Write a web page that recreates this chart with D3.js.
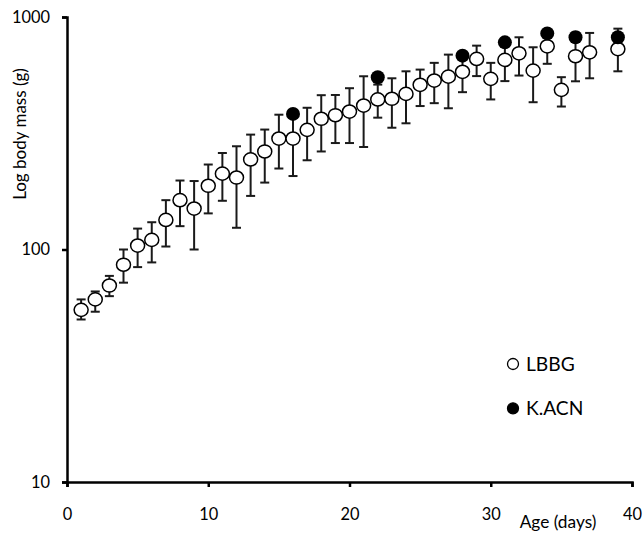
<!DOCTYPE html>
<html>
<head>
<meta charset="utf-8">
<script src="https://cdn.jsdelivr.net/npm/d3@7"></script>
<style>
  body { margin: 0; background: #fff; }
  svg { font-family: Lato, "Open Sans", sans-serif; }
</style>
</head>
<body>
<svg id="chart" width="644" height="533"></svg>
<script>
// LBBG chicks: mean body mass with upper/lower error limits (g)
const lbbgDays  = [1, 2, 3, 4, 5, 6, 7, 8, 9, 10, 11, 12, 13, 14, 15, 16, 17, 18, 19, 20,
                   21, 22, 23, 24, 25, 26, 27, 28, 29, 30, 31, 32, 33, 34, 35, 36, 37, 39];
const lbbgMass  = [55, 61, 70, 86, 104, 110, 134, 163, 150, 188, 212, 204, 244, 264, 300, 300, 327, 365, 378, 392,
                   416, 442, 445, 467, 511, 533, 554, 581, 660, 542, 654, 698, 588, 748, 486, 678, 705, 728];
const lbbgUpper = [61, 66, 77, 100, 123, 131, 163, 198, 197, 232, 260, 278, 312, 328, 380, 382, 407, 461, 462, 494,
                   556, 512, 545, 584, 594, 635, 689, 703, 753, 635, 791, 818, 741, 873, 551, 856, 854, 891];
const lbbgLower = [50, 54, 63, 72, 84, 88, 103, 126, 100, 143, 162, 124, 170, 194, 223, 207, 242, 264, 287, 287,
                   276, 369, 334, 349, 414, 426, 405, 475, 557, 442, 530, 560, 430, 629, 412, 529, 545, 584];

// K.ACN individual
const acnDays = [16, 22, 28, 31, 34, 36, 39];
const acnMass = [383, 551, 682, 778, 850, 818, 818];

const xTicks = [0, 10, 20, 30, 40];
const yTicks = [10, 100, 1000];
const legendItems = ["LBBG", "K.ACN"];

const svg = d3.select("svg#chart");
const margin = { left: 67, right: 12, top: 17, bottom: 51 };
const width = 644, height = 533;

const x = d3.scaleLinear().domain([0, 40]).range([margin.left, width - margin.right]);
const y = d3.scaleLog().domain([10, 1000]).range([height - margin.bottom, margin.top]);

const lbbg = lbbgDays.map((d, i) => ({ day: d, mass: lbbgMass[i], hi: lbbgUpper[i], lo: lbbgLower[i] }));
const acn = acnDays.map((d, i) => ({ day: d, mass: acnMass[i] }));

// axes
const xAxis = svg.append("g")
    .attr("transform", `translate(0,${y(10)})`)
    .call(d3.axisBottom(x).tickValues(xTicks).tickSize(5).tickPadding(21));
const yAxis = svg.append("g")
    .attr("transform", `translate(${x(0)},0)`)
    .call(d3.axisLeft(y).tickValues(yTicks).tickFormat(d3.format("d")).tickSize(5).tickPadding(12));

[xAxis, yAxis].forEach(a => {
    a.select(".domain").attr("stroke", "#000").attr("stroke-width", 2.5);
    a.selectAll(".tick line").attr("stroke", "#000").attr("stroke-width", 2.5);
    a.selectAll(".tick text").attr("fill", "#000").style("font-size", "16.4px")
        .style("font-family", "Lato, 'Open Sans', sans-serif");
});

// axis titles
svg.append("text")
    .attr("transform", "translate(26,134) rotate(-90)")
    .attr("text-anchor", "middle")
    .style("font-size", "17px")
    .text("Log body mass (g)");

svg.append("text")
    .attr("x", 558).attr("y", 528)
    .attr("text-anchor", "middle")
    .style("font-size", "17.3px")
    .text("Age (days)");

// error bars
const capW = 4.5;
const bars = svg.append("g").attr("stroke", "#1a1a1a").attr("stroke-width", 2);
bars.selectAll("line.stem")
    .data(lbbg)
    .join("line")
    .attr("class", "stem")
    .attr("x1", d => x(d.day)).attr("x2", d => x(d.day))
    .attr("y1", d => y(d.hi)).attr("y2", d => y(d.lo));
bars.selectAll("line.capHi")
    .data(lbbg)
    .join("line")
    .attr("class", "capHi")
    .attr("x1", d => x(d.day) - capW).attr("x2", d => x(d.day) + capW)
    .attr("y1", d => y(d.hi)).attr("y2", d => y(d.hi));
bars.selectAll("line.capLo")
    .data(lbbg)
    .join("line")
    .attr("class", "capLo")
    .attr("x1", d => x(d.day) - capW).attr("x2", d => x(d.day) + capW)
    .attr("y1", d => y(d.lo)).attr("y2", d => y(d.lo));

// LBBG open circles
svg.append("g").selectAll("ellipse")
    .data(lbbg)
    .join("ellipse")
    .attr("cx", d => x(d.day))
    .attr("cy", d => y(d.mass))
    .attr("rx", 7).attr("ry", 6.6)
    .attr("fill", "#fff")
    .attr("stroke", "#000")
    .attr("stroke-width", 1.5);

// K.ACN filled circles
svg.append("g").selectAll("circle")
    .data(acn)
    .join("circle")
    .attr("cx", d => x(d.day))
    .attr("cy", d => y(d.mass))
    .attr("r", 7)
    .attr("fill", "#000");

// legend
const legend = svg.append("g").attr("transform", "translate(513,364)");
legendItems.forEach((name, i) => {
    const g = legend.append("g").attr("transform", `translate(0,${i * 44.3})`);
    g.append("circle")
        .attr("r", 5.5)
        .attr("fill", i === 0 ? "#fff" : "#000")
        .attr("stroke", "#000")
        .attr("stroke-width", 1.3);
    g.append("text")
        .attr("x", 13).attr("y", 7)
        .style("font-size", "19.2px")
        .text(name);
});
</script>
</body>
</html>
